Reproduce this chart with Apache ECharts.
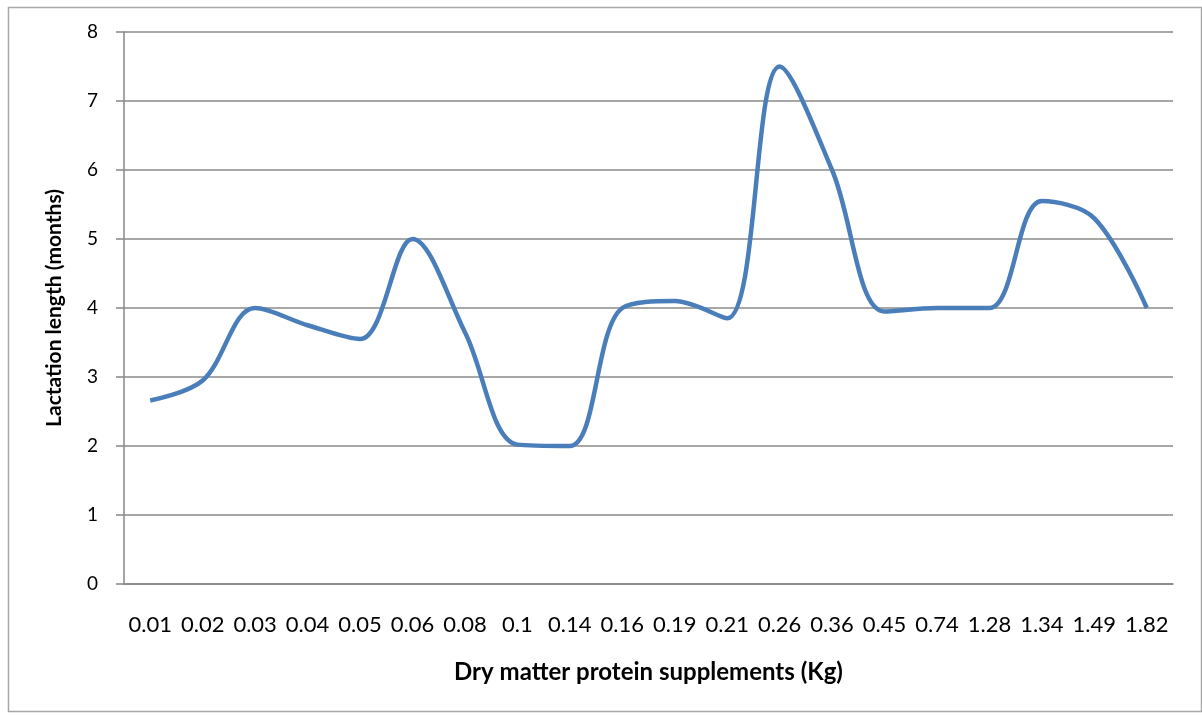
<!DOCTYPE html>
<html>
<head>
<meta charset="utf-8">
<script src="https://cdn.jsdelivr.net/npm/echarts@6/dist/echarts.min.js"></script>
<style>
html,body{margin:0;padding:0;background:#fff;}
#chart{width:1202px;height:715px;}
</style>
</head>
<body>
<div id="chart"></div>
<script>
const categories = ['0.01','0.02','0.03','0.04','0.05','0.06','0.08','0.1','0.14','0.16','0.19','0.21','0.26','0.36','0.45','0.74','1.28','1.34','1.49','1.82'];
const lactationLength = [2.66, 2.95, 4.0, 3.75, 3.55, 5.0, 3.65, 2.02, 2.0, 4.0, 4.1, 3.85, 7.5, 6.0, 3.95, 4.0, 4.0, 5.55, 5.3, 4.0];
const yTicks = [0, 1, 2, 3, 4, 5, 6, 7, 8];

const chart = echarts.init(document.getElementById('chart'));
chart.setOption({
  animation: false,
  backgroundColor: '#fff',
  graphic: [{
    type: 'rect', left: 6, top: 5,
    shape: { width: 1193, height: 704 },
    style: { fill: 'none', stroke: '#a8a8a8', lineWidth: 1.5 }
  }],
  grid: { left: 124, right: 29, top: 32, bottom: 131 },
  xAxis: {
    type: 'category',
    data: categories,
    boundaryGap: true,
    name: 'Dry matter protein supplements (Kg)',
    nameLocation: 'middle',
    nameGap: 76,
    nameTextStyle: { fontFamily: 'Lato', fontWeight: 'bold', fontSize: 24, color: '#000' },
    axisLine: { lineStyle: { color: '#878787', width: 1.5 } },
    axisTick: { show: false },
    axisLabel: { interval: 0, margin: 30, fontFamily: 'Lato', fontSize: 22, color: '#000' },
    splitLine: { show: false }
  },
  yAxis: {
    type: 'value',
    min: 0, max: 8, interval: 1,
    name: 'Lactation length (months)',
    nameLocation: 'middle',
    nameRotate: 90,
    nameGap: 59,
    nameTextStyle: { fontFamily: 'Lato', fontWeight: 'bold', fontSize: 21, color: '#000' },
    axisLine: { show: true, lineStyle: { color: '#878787', width: 1.5 } },
    axisTick: { show: true, length: 8, lineStyle: { color: '#878787', width: 1.5 } },
    axisLabel: {
      margin: 26, fontFamily: 'Lato', fontSize: 19, color: '#000',
      formatter: v => yTicks.includes(v) ? String(v) : ''
    },
    splitLine: { show: true, lineStyle: { color: '#8a8a8a', width: 1.5 } }
  },
  series: [{
    type: 'line',
    data: lactationLength,
    smooth: 0.35,
    showSymbol: false,
    lineStyle: { color: '#4a7ebb', width: 4.5 }
  }]
});
</script>
</body>
</html>
